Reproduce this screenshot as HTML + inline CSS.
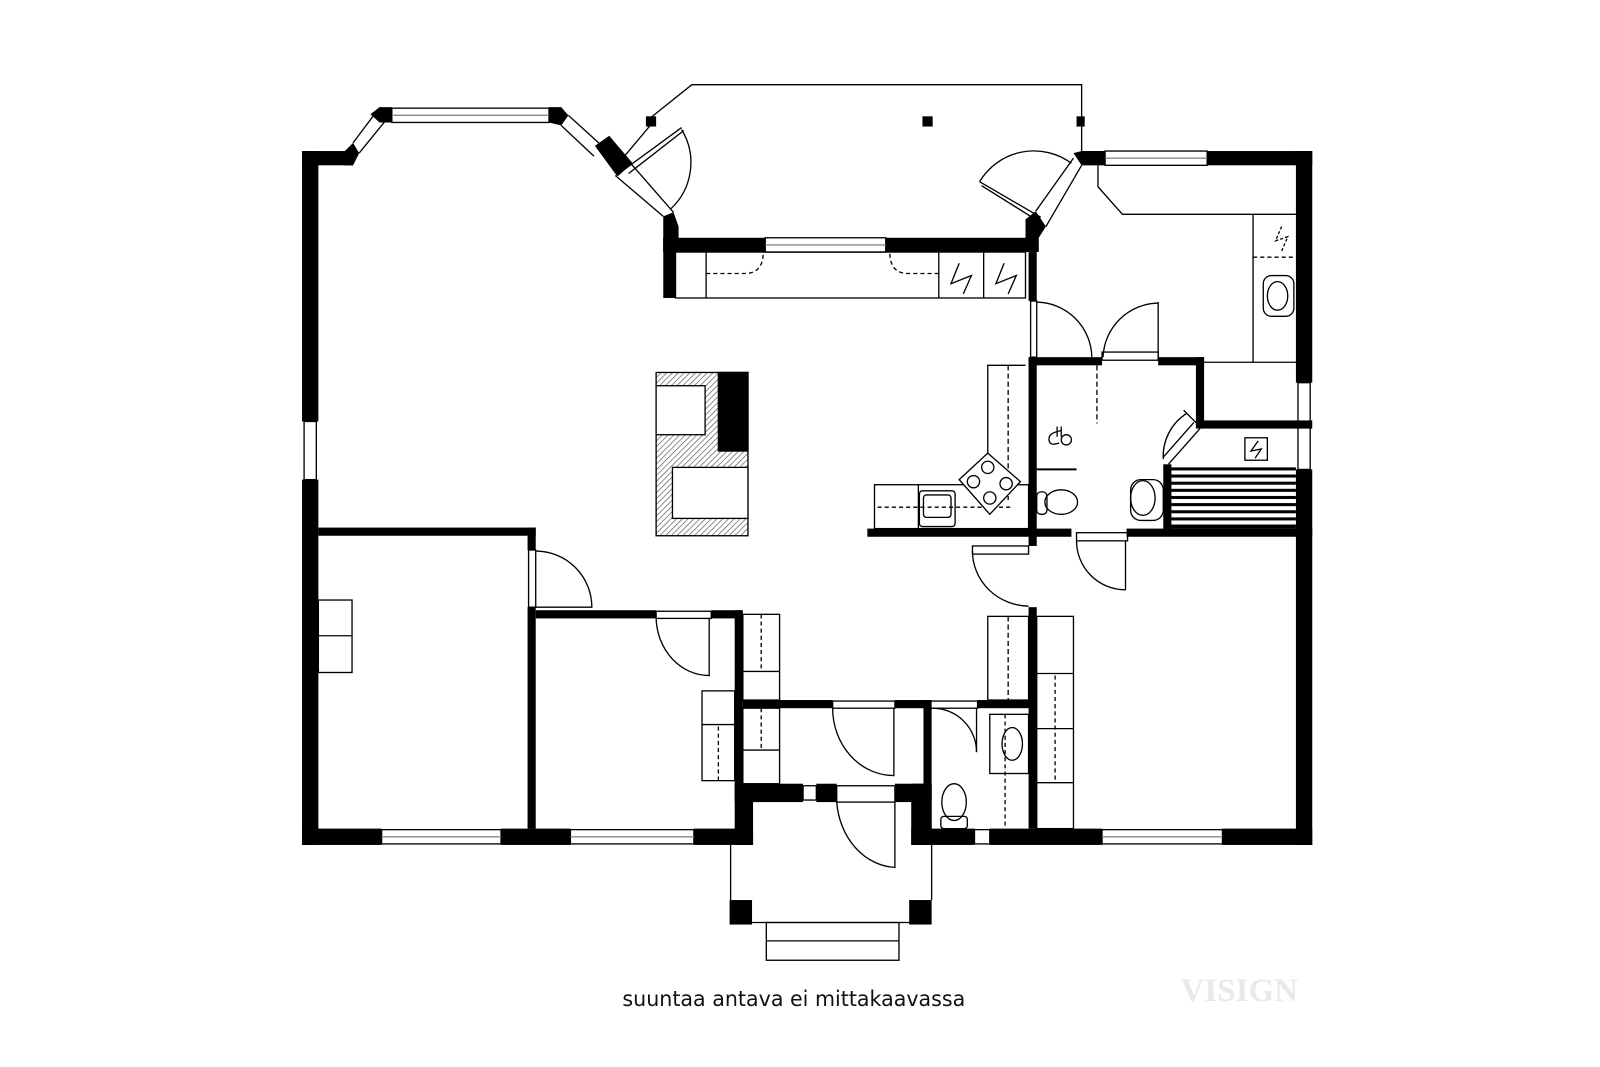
<!DOCTYPE html>
<html><head><meta charset="utf-8"><style>
html,body{margin:0;padding:0;background:#fff;}
svg{display:block}
</style></head><body>
<svg width="1600" height="1067" viewBox="0 0 1568 1045.6" preserveAspectRatio="none" xmlns="http://www.w3.org/2000/svg">
<defs>
<pattern id="h" width="4" height="4" patternUnits="userSpaceOnUse" patternTransform="rotate(45)">
<rect width="4" height="4" fill="#fff"/><line x1="0" y1="0" x2="0" y2="4" stroke="#555" stroke-width="1.3"/>
</pattern>
</defs>
<g fill="#000">
<rect x="296" y="148" width="16" height="265"/>
<rect x="296" y="470" width="16" height="358"/>
<rect x="296" y="148" width="50" height="14"/>
<polygon points="338,148 346,140 352,150 346,162 338,162"/>
<polygon points="363,112 372,105 384,105 384,120 372,120"/>
<polygon points="538,105 550,105 557,113 550,123 538,120"/>
<polygon points="583,143 597,133 620,160 605,173"/>
<polygon points="650,212 660,208 665,222 665,247 650,247"/>
<rect x="650" y="233" width="100" height="14"/>
<rect x="868" y="233" width="147" height="14"/>
<rect x="650" y="233" width="12" height="59"/>
<polygon points="1005,215 1015,207 1025,222 1018,233 1018,247 1005,247"/>
<polygon points="1052,150 1060,148 1083,148 1083,162 1060,162"/>
<rect x="1183" y="148" width="103" height="14"/>
<rect x="1270" y="148" width="16" height="227"/>
<rect x="1270" y="460" width="16" height="368"/>
<rect x="296" y="812" width="78" height="16"/>
<rect x="491" y="812" width="68" height="16"/>
<rect x="680" y="812" width="58" height="16"/>
<rect x="893" y="812" width="62" height="16"/>
<rect x="970" y="812" width="110" height="16"/>
<rect x="1198" y="812" width="88" height="16"/>
<rect x="312" y="517" width="213" height="8"/>
<rect x="517" y="517" width="8" height="22"/>
<rect x="517" y="595" width="8" height="217"/>
<rect x="525" y="598" width="118" height="8"/>
<rect x="697" y="598" width="30" height="8"/>
<rect x="720" y="598" width="8" height="172"/>
<rect x="728" y="686" width="88" height="8"/>
<rect x="877" y="686" width="35" height="8"/>
<rect x="958" y="686" width="58" height="8"/>
<rect x="905" y="686" width="8" height="126"/>
<rect x="720" y="768" width="67" height="18"/>
<rect x="800" y="768" width="20" height="18"/>
<rect x="720" y="768" width="18" height="60"/>
<rect x="877" y="768" width="36" height="18"/>
<rect x="893" y="768" width="20" height="60"/>
<rect x="1008" y="247" width="8" height="48"/>
<rect x="1008" y="350" width="8" height="185"/>
<rect x="1008" y="595" width="8" height="217"/>
<rect x="1008" y="350" width="72" height="8"/>
<rect x="1135" y="350" width="45" height="8"/>
<rect x="1172" y="350" width="8" height="66"/>
<rect x="1172" y="412" width="114" height="8"/>
<rect x="1140" y="455" width="8" height="68"/>
<rect x="850" y="518" width="200" height="8"/>
<rect x="1104" y="518" width="182" height="8"/>
<rect x="704" y="365" width="29" height="77"/>
<rect x="715" y="882" width="22" height="24"/>
<rect x="891" y="882" width="22" height="24"/>
<rect x="904" y="114" width="10" height="10"/>
<rect x="1055" y="114" width="8" height="10"/>
<rect x="633" y="114" width="10" height="10"/>
</g>
<g fill="none" stroke="#000" stroke-width="1.3">
<polyline points="638,115 678,83 1060,83 1060,150"/>
<polyline points="602,165 638,122"/>
<rect x="384" y="106" width="154" height="14"/>
<line x1="384" y1="113" x2="538" y2="113" stroke="#888"/>
<line x1="346" y1="140" x2="370" y2="108"/><line x1="352" y1="150" x2="378" y2="118"/>
<line x1="557" y1="113" x2="590" y2="143"/><line x1="550" y1="123" x2="582" y2="153"/>
<rect x="750" y="233" width="118" height="14"/>
<line x1="750" y1="240" x2="868" y2="240" stroke="#888"/>
<rect x="1083" y="148" width="100" height="14"/>
<line x1="1083" y1="155" x2="1183" y2="155" stroke="#888"/>
<rect x="298" y="413" width="12" height="57"/>
<rect x="374" y="813" width="117" height="14"/><line x1="374" y1="820" x2="491" y2="820" stroke="#888"/>
<rect x="559" y="813" width="121" height="14"/><line x1="559" y1="820" x2="680" y2="820" stroke="#888"/>
<rect x="1080" y="813" width="118" height="14"/><line x1="1080" y1="820" x2="1198" y2="820" stroke="#888"/>
<rect x="955" y="813" width="15" height="14"/>
<rect x="1272" y="375" width="12" height="85"/>
<rect x="787" y="770" width="13" height="14"/>
<line x1="603" y1="172" x2="650" y2="212"/><line x1="618" y1="160" x2="660" y2="208"/>
<line x1="612" y1="166" x2="668" y2="125"/>
<line x1="616" y1="170" x2="670" y2="128"/>
<path d="M668,127 A62,62 0 0 1 657,205"/>
<line x1="1015" y1="207" x2="1052" y2="155"/><line x1="1025" y1="222" x2="1060" y2="162"/>
<line x1="1020" y1="213" x2="960" y2="178"/><line x1="1018" y1="217" x2="962" y2="182"/>
<path d="M960,178 A62,62 0 0 1 1050,160"/>
<rect x="662" y="247" width="343" height="45"/>
<line x1="692" y1="247" x2="692" y2="292"/>
<line x1="920" y1="247" x2="920" y2="292"/>
<line x1="964" y1="247" x2="964" y2="292"/>
<path d="M692,268 L730,268 Q748,268 748,247" stroke-dasharray="4,3"/>
<path d="M920,268 L890,268 Q872,268 872,247" stroke-dasharray="4,3"/>
<polyline points="940,258 932,278 952,270 944,288"/>
<polyline points="984,258 976,278 996,270 988,288"/>
<rect x="643" y="365" width="90" height="160" fill="url(#h)"/>
<rect x="704" y="365" width="29" height="77" fill="#000"/>
<rect x="643" y="378" width="48" height="48" fill="#fff"/>
<rect x="659" y="458" width="74" height="50" fill="#fff"/>
<polyline points="1005,358 968,358 968,462"/>
<line x1="988" y1="358" x2="988" y2="490" stroke-dasharray="5,3"/>
<rect x="857" y="475" width="151" height="43"/>
<line x1="900" y1="475" x2="900" y2="518"/>
<line x1="860" y1="497" x2="990" y2="497" stroke-dasharray="4,3"/>
<polygon points="940,470 968,444 1000,472 970,504" fill="#fff"/>
<circle cx="954" cy="472" r="6"/><circle cx="968" cy="458" r="6"/><circle cx="970" cy="488" r="6"/><circle cx="986" cy="474" r="6"/>
<rect x="901" y="481" width="35" height="35" rx="3"/><rect x="905" y="485" width="27" height="22" rx="3"/>
<rect x="1010" y="295" width="6" height="55"/>
<path d="M1016,296 A55,55 0 0 1 1070,350"/>
<rect x="1080" y="345" width="55" height="8"/>
<line x1="1135" y1="296" x2="1135" y2="350"/>
<path d="M1135,297 A55,55 0 0 0 1081,350"/>
<polyline points="1076,162 1076,183 1100,210 1228,210 1228,355"/>
<line x1="1228" y1="210" x2="1270" y2="210"/>
<line x1="1228" y1="252" x2="1270" y2="252" stroke-dasharray="4,3"/>
<polyline points="1256,222 1250,236 1262,232 1256,246" stroke-dasharray="3,2"/>
<rect x="1238" y="270" width="30" height="40" rx="8"/>
<ellipse cx="1252" cy="290" rx="10" ry="14"/>
<line x1="1180" y1="355" x2="1270" y2="355"/>
<line x1="1075" y1="358" x2="1075" y2="415" stroke-dasharray="5,3"/>
<circle cx="1045" cy="431" r="5"/><path d="M1040,422 q-12,2 -12,8 q0,8 10,4" />
<line x1="1036" y1="418" x2="1036" y2="428"/><line x1="1040" y1="418" x2="1040" y2="428"/>
<line x1="1016" y1="460" x2="1055" y2="460" stroke-width="2"/>
<ellipse cx="1040" cy="492" rx="16" ry="12"/><rect x="1016" y="482" width="10" height="22" rx="4"/>
<ellipse cx="1120" cy="488" rx="12" ry="17"/><rect x="1108" y="470" width="32" height="40" rx="10"/>
<line x1="1145" y1="455" x2="1176" y2="420"/><line x1="1140" y1="448" x2="1170" y2="414"/>
<path d="M1163,405 A50,50 0 0 0 1140,450"/>
<line x1="1160" y1="402" x2="1175" y2="417"/>
<rect x="1220" y="429" width="22" height="22"/>
<polyline points="1233,432 1226,442 1236,440 1230,449"/>
</g>
<g fill="#000">
<rect x="1148" y="458" width="122" height="3"/>
<rect x="1148" y="465" width="122" height="3"/>
<rect x="1148" y="472" width="122" height="3"/>
<rect x="1148" y="479" width="122" height="3"/>
<rect x="1148" y="486" width="122" height="3"/>
<rect x="1148" y="493" width="122" height="3"/>
<rect x="1148" y="500" width="122" height="3"/>
<rect x="1148" y="507" width="122" height="3"/>
<rect x="1148" y="514" width="122" height="4"/>
</g>
<g fill="none" stroke="#000" stroke-width="1.3">
<rect x="518" y="539" width="7" height="56"/>
<path d="M525,540 A55,55 0 0 1 580,595 L525,595"/>
<rect x="312" y="588" width="33" height="71"/><line x1="312" y1="623" x2="345" y2="623"/>
<rect x="643" y="599" width="54" height="7"/>
<path d="M643,606 A52,58 0 0 0 695,662 L695,606"/>
<rect x="728" y="602" width="36" height="84"/><line x1="728" y1="658" x2="764" y2="658"/><line x1="746" y1="602" x2="746" y2="658" stroke-dasharray="4,3"/>
<rect x="688" y="677" width="32" height="88"/><line x1="688" y1="710" x2="720" y2="710"/><line x1="704" y1="712" x2="704" y2="765" stroke-dasharray="4,3"/>
<rect x="728" y="694" width="36" height="74"/><line x1="728" y1="735" x2="764" y2="735"/><line x1="746" y1="694" x2="746" y2="735" stroke-dasharray="4,3"/>
<rect x="816" y="687" width="61" height="7"/>
<path d="M816,694 A60,66 0 0 0 876,760 L876,694"/>
<rect x="912" y="687" width="46" height="7"/>
<path d="M914,694 A43,43 0 0 1 957,737"/><line x1="957" y1="694" x2="957" y2="737"/>
<rect x="970" y="700" width="38" height="58"/><ellipse cx="992" cy="729" rx="10" ry="16"/>
<line x1="985" y1="700" x2="985" y2="810" stroke-dasharray="4,3"/>
<ellipse cx="935" cy="786" rx="12" ry="18"/><rect x="922" y="800" width="26" height="12" rx="3"/>
<rect x="820" y="770" width="57" height="16"/>
<path d="M820,786 A60,70 0 0 0 877,850 L877,786"/>
<rect x="953" y="535" width="55" height="8"/>
<path d="M953,540 A56,54 0 0 0 1008,594"/>
<rect x="1055" y="522" width="50" height="8"/>
<path d="M1055,530 A48,48 0 0 0 1103,578"/><line x1="1103" y1="530" x2="1103" y2="578"/>
<rect x="968" y="604" width="40" height="82"/><line x1="988" y1="604" x2="988" y2="686" stroke-dasharray="5,3"/>
<rect x="1016" y="604" width="36" height="208"/>
<line x1="1016" y1="660" x2="1052" y2="660"/><line x1="1016" y1="714" x2="1052" y2="714"/><line x1="1016" y1="767" x2="1052" y2="767"/>
<line x1="1034" y1="662" x2="1034" y2="767" stroke-dasharray="4,3"/>
<line x1="716" y1="828" x2="716" y2="882"/><line x1="913" y1="828" x2="913" y2="882"/>
<line x1="737" y1="904" x2="891" y2="904"/>
<rect x="751" y="904" width="130" height="37"/><line x1="751" y1="922" x2="881" y2="922"/>
</g>
<text x="610" y="986" textLength="336" lengthAdjust="spacingAndGlyphs" font-family="DejaVu Sans, sans-serif" font-size="21" fill="#111">suuntaa antava ei mittakaavassa</text>
<text x="1157" y="981" textLength="115" lengthAdjust="spacingAndGlyphs" font-family="Liberation Serif, serif" font-size="32" font-weight="bold" fill="#ece8e4">VISIGN</text>
</svg>
</body></html>
